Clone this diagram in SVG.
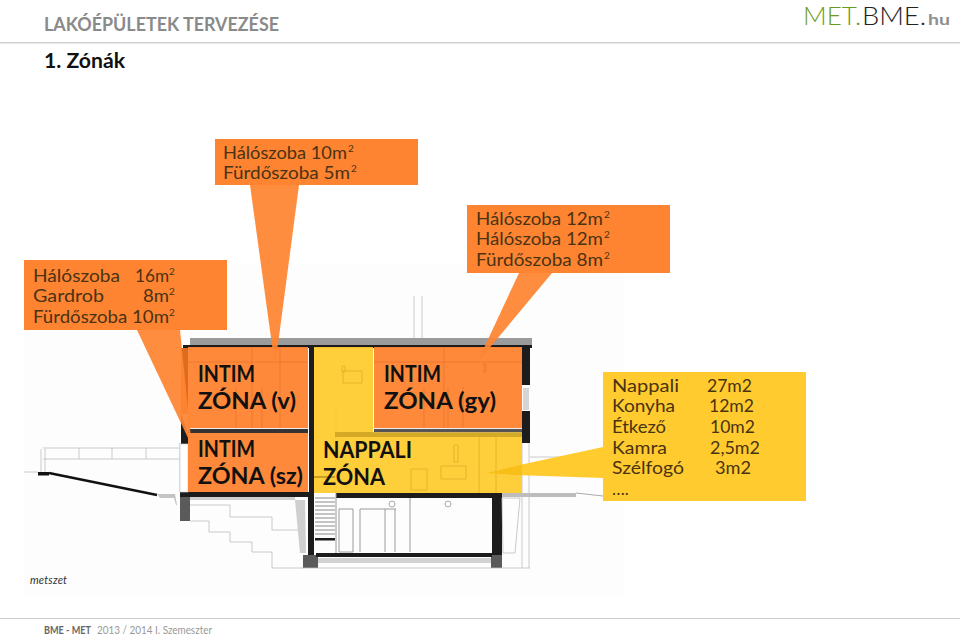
<svg xmlns="http://www.w3.org/2000/svg" width="960" height="636" viewBox="0 0 960 636">
<style>
text{font-family:"Lato","Open Sans","Liberation Sans",sans-serif}
.c{font-size:17px;fill:#4a3312}
.s{font-size:10px;fill:#4a3312}
.z{font-size:22px;font-weight:700;fill:#111}
.o{fill:#fe8432}
.y{fill:#ffcb2f}
.l{fill:none;stroke:#bdbdbd;stroke-width:.8}
.d{fill:none;stroke:#9a9a9a;stroke-width:1}
.k{fill:#1c1c1c}
.g{fill:#5a5a5a}
.fo{fill:none;stroke:#e8702a;stroke-width:.7}
</style>
<rect width="960" height="636" fill="#fff"/>
<g id="header">
<text x="44" y="31" font-size="18" font-weight="700" fill="#8a8a8a" textLength="235" lengthAdjust="spacingAndGlyphs">LAKÓÉPÜLETEK TERVEZÉSE</text>
<rect x="0" y="42" width="960" height="1.5" fill="#cfcfcf"/>
<text x="44" y="68" font-size="20" font-weight="700" fill="#111" textLength="81" lengthAdjust="spacingAndGlyphs">1. Zónák</text>
<text x="803" y="25" font-size="25" font-weight="300" fill="#6d9b1e" textLength="58" lengthAdjust="spacingAndGlyphs">MET.</text>
<text x="862" y="25" font-size="25" font-weight="300" fill="#222" textLength="64" lengthAdjust="spacingAndGlyphs">BME.</text>
<text x="928" y="25" font-size="16" font-weight="700" fill="#8f8f8f" textLength="22" lengthAdjust="spacingAndGlyphs">hu</text>
</g>
<g id="section-drawing">
<rect x="24" y="265" width="600" height="330" fill="#fdfdfd"/>
<path class="l" d="M414 296V338M422 296V338M43 448H180M43 459H180M79 448V459M112 448V459M146 448V459M180 443V492M24 472H38M41 449V472M45 449V472"/>
<path class="l" d="M190 505H230V517H272V530H298M190 521H209V532H230V542H252V552H272V568H303"/>
<path d="M49 473L157 495" stroke="#111" stroke-width="2.5" fill="none"/>
<rect x="38" y="472" width="11" height="3.5" fill="#111"/>
<path d="M157 494H175L177 505H176L174 498H160Z" fill="#c4c4c4"/>
<path class="k" d="M180 492H309V497H180Z"/>
<rect x="180" y="497" width="10" height="24" class="g"/>
<rect x="190" y="497" width="105" height="3" fill="#cfcfcf"/>
<path d="M295 500H305L306 553H300Z" fill="#cfcfcf"/>
<rect x="308" y="493" width="6" height="67" class="k"/>
<rect x="303" y="555" width="15" height="13" class="g"/>
<rect x="492" y="493" width="10" height="62" class="k"/>
<rect x="491" y="555" width="11" height="13" class="g"/>
<rect x="336" y="493" width="157" height="5" class="k"/>
<rect x="316" y="553" width="176" height="4" class="k"/>
<rect x="318" y="558" width="173" height="5" fill="#d2d2d2"/>
<rect x="315" y="538" width="20" height="2.5" class="k"/>
<path d="M315 498H335M315 502H335M315 506H335M315 510H335M315 514H335M315 518H335M315 522H335M315 526H335M315 530H335M315 534H335" stroke="#8a8a8a" stroke-width="1"/>
<path class="d" d="M336 410V553M339 509H353V552H339ZM360 509V552M385 509V552M360 509H396M395 509V552M410 498V552"/>
<circle cx="392" cy="504" r="3" fill="none" stroke="#aaa"/><circle cx="448" cy="504" r="3" fill="none" stroke="#aaa"/>
<path class="l" d="M530 457H603M522 443V568M529 443V568M302 568H530M502 498H520L515 553H503Z"/>
<path d="M502 493H576V497H502Z" fill="#bdbdbd"/>
<path d="M576 493L603 496" stroke="#aaa" fill="none"/>
<path d="M190 338V345H532V338Z" fill="#9b9b9b"/>
<rect x="183" y="345" width="349" height="3" class="k"/>
<rect x="309" y="346" width="5" height="147" class="k"/>
<rect x="522" y="346" width="8" height="39" class="k"/>
<rect x="522" y="411" width="8" height="32" class="k"/>
<rect x="523" y="388" width="6" height="22" fill="#d5d5d5"/>
<path d="M181 414L188 433V444H181Z" class="k"/>
<rect x="180" y="444" width="8" height="48" fill="#fff" stroke="#ccc" stroke-width=".7"/>
<text x="30" y="584" font-size="11" font-style="italic" fill="#333" textLength="37">metszet</text>
</g>
<g id="zone-intim-v">
<rect x="188" y="347" width="120" height="81" class="o" opacity=".96"/>
<rect x="181" y="348" width="7" height="66" fill="#dd6c1e"/>
<path class="fo" d="M252 347V428M280 347V428M188 362H308M236 387V428M262 387V428"/>
<rect x="188" y="428" width="120" height="1" fill="#eee"/>
<rect x="188" y="429" width="120" height="4" fill="#333"/>
<text class="z" x="198" y="382" textLength="57" lengthAdjust="spacingAndGlyphs">INTIM</text>
<text class="z" x="198" y="409" textLength="98" lengthAdjust="spacingAndGlyphs">ZÓNA (v)</text>
</g>
<g id="zone-intim-sz">
<rect x="188" y="433" width="120" height="59" class="o" opacity=".96"/>
<text class="z" x="198" y="457" textLength="57" lengthAdjust="spacingAndGlyphs">INTIM</text>
<text class="z" x="198" y="484" textLength="105" lengthAdjust="spacingAndGlyphs">ZÓNA (sz)</text>
</g>
<g id="zone-intim-gy">
<rect x="374" y="347" width="148" height="81" class="o" opacity=".96"/>
<path class="fo" d="M444 347V428M374 362H522M424 387V428M448 387V428M463 387V428M484 364H486V372H484Z"/>
<rect x="374" y="428" width="148" height="1" fill="#eee"/>
<rect x="374" y="429" width="148" height="3" fill="#555"/>
<text class="z" x="384" y="382" textLength="57" lengthAdjust="spacingAndGlyphs">INTIM</text>
<text class="z" x="384" y="409" textLength="112" lengthAdjust="spacingAndGlyphs">ZÓNA (gy)</text>
</g>
<g id="zone-nappali">
<path class="y" d="M314 347H373V433H522V493H335V493H314Z" opacity=".94"/>
<rect x="335" y="432" width="187" height="5" fill="#c9a020" opacity=".8"/>
<path d="M314 477H335" stroke="#c9a020" stroke-width="2"/>
<path d="M496 437V493M479 437V493M411 469H427V490H411ZM441 466H466V479H441ZM454 445H458V462H454ZM343 371H362V383H343ZM342 366H345V372H342Z" fill="none" stroke="#e0b02a" stroke-width=".8"/>
<text class="z" x="323" y="458" textLength="89" lengthAdjust="spacingAndGlyphs">NAPPALI</text>
<text class="z" x="323" y="485" textLength="62" lengthAdjust="spacingAndGlyphs">ZÓNA</text>
</g>
<g id="connectors">
<path class="o" d="M250 185H299L275 367Z" opacity=".93"/>
<path class="o" d="M137 330H180L191 438L188 438Z" opacity=".93"/>
<path class="o" d="M519 273H552L477 363Z" opacity=".93"/>
<path d="M522 464.5V475.3L487 473Z" fill="#f7bf17"/>
<path class="y" d="M603 447V478L522 475.3V464.5Z"/>
</g>
<g id="note-top">
<rect x="215" y="139" width="203" height="46" class="o"/>
<text class="c" x="223" y="159" textLength="124" lengthAdjust="spacingAndGlyphs">Hálószoba 10m</text><text class="s" x="348" y="152">2</text>
<text class="c" x="223" y="179" textLength="127" lengthAdjust="spacingAndGlyphs">Fürdőszoba 5m</text><text class="s" x="351" y="172">2</text>
</g>
<g id="note-left">
<rect x="24" y="260" width="203" height="70" class="o"/>
<text class="c" x="33" y="282" textLength="87" lengthAdjust="spacingAndGlyphs">Hálószoba</text><text class="c" x="135" y="282" textLength="34" lengthAdjust="spacingAndGlyphs">16m</text><text class="s" x="169" y="275">2</text>
<text class="c" x="33" y="302" textLength="71" lengthAdjust="spacingAndGlyphs">Gardrob</text><text class="c" x="143" y="302" textLength="26" lengthAdjust="spacingAndGlyphs">8m</text><text class="s" x="169" y="295">2</text>
<text class="c" x="33" y="323" textLength="136" lengthAdjust="spacingAndGlyphs">Fürdőszoba 10m</text><text class="s" x="169" y="316">2</text>
</g>
<g id="note-right">
<rect x="467" y="205" width="203" height="68" class="o"/>
<text class="c" x="476" y="225" textLength="127" lengthAdjust="spacingAndGlyphs">Hálószoba 12m</text><text class="s" x="604" y="218">2</text>
<text class="c" x="476" y="245" textLength="127" lengthAdjust="spacingAndGlyphs">Hálószoba 12m</text><text class="s" x="604" y="238">2</text>
<text class="c" x="476" y="266" textLength="127" lengthAdjust="spacingAndGlyphs">Fürdőszoba 8m</text><text class="s" x="604" y="259">2</text>
</g>
<g id="note-nappali">
<rect x="603" y="372" width="203" height="129" class="y"/>
<text class="c" x="612" y="392" textLength="67" lengthAdjust="spacingAndGlyphs">Nappali</text><text class="c" x="707" y="392" textLength="45" lengthAdjust="spacingAndGlyphs">27m2</text>
<text class="c" x="612" y="412" textLength="63" lengthAdjust="spacingAndGlyphs">Konyha</text><text class="c" x="709" y="412" textLength="45" lengthAdjust="spacingAndGlyphs">12m2</text>
<text class="c" x="612" y="433" textLength="54" lengthAdjust="spacingAndGlyphs">Étkező</text><text class="c" x="710" y="433" textLength="45" lengthAdjust="spacingAndGlyphs">10m2</text>
<text class="c" x="612" y="454" textLength="55" lengthAdjust="spacingAndGlyphs">Kamra</text><text class="c" x="710" y="454" textLength="50" lengthAdjust="spacingAndGlyphs">2,5m2</text>
<text class="c" x="612" y="474" textLength="72" lengthAdjust="spacingAndGlyphs">Szélfogó</text><text class="c" x="715" y="474" textLength="36" lengthAdjust="spacingAndGlyphs">3m2</text>
<text class="c" x="612" y="495">….</text>
</g>
<g id="footer">
<rect x="0" y="618" width="960" height="1" fill="#cfcfcf"/>
<text x="44" y="634" font-size="11" font-weight="700" fill="#666" textLength="47" lengthAdjust="spacingAndGlyphs">BME - MET</text>
<text x="97" y="634" font-size="11" fill="#999" textLength="115" lengthAdjust="spacingAndGlyphs">2013 / 2014 I. Szemeszter</text>
</g>
</svg>
